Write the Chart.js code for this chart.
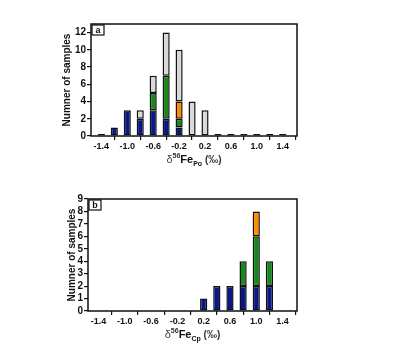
<!DOCTYPE html>
<html>
<head>
<meta charset="utf-8">
<script src="https://cdn.jsdelivr.net/npm/chart.js@4/dist/chart.umd.min.js"></script>
<style>
  html, body { margin: 0; padding: 0; background: #fff; }
  .panel { position: absolute; left: 0; width: 400px; }
  #panelA { top: 0; height: 178px; }
  #panelB { top: 178px; height: 167px; }
</style>
</head>
<body>
<div class="panel" id="panelA"><canvas id="chartA"></canvas></div>
<div class="panel" id="panelB"><canvas id="chartB"></canvas></div>
<script>
// bin centres (‰), shared by both histograms
const bins = [-1.4, -1.2, -1.0, -0.8, -0.6, -0.4, -0.2, 0.0, 0.2, 0.4, 0.6, 0.8, 1.0, 1.2, 1.4]
const xTicks = [-1.4, -1.0, -0.6, -0.2, 0.2, 0.6, 1.0, 1.4]

// (a) pyrrhotite
const poBlue   = [0, 1, 3, 2, 3, 2, 1, 0, 0, 0, 0, 0, 0, 0, 0]
const poGreen  = [0, 0, 0, 0, 2, 5, 1, 0, 0, 0, 0, 0, 0, 0, 0]
const poOrange = [0, 0, 0, 0, 0, 0, 2, 0, 0, 0, 0, 0, 0, 0, 0]
const poGrey   = [0, 0, 0, 1, 2, 5, 6, 4, 3, 0, 0, 0, 0, 0, 0]
const poYTicks = [0, 2, 4, 6, 8, 10, 12]

// (b) chalcopyrite
const cpBlue   = [0, 0, 0, 0, 0, 0, 0, 0, 1, 2, 2, 2, 2, 2, 0]
const cpGreen  = [0, 0, 0, 0, 0, 0, 0, 0, 0, 0, 0, 2, 4, 2, 0]
const cpOrange = [0, 0, 0, 0, 0, 0, 0, 0, 0, 0, 0, 0, 2, 0, 0]
const cpYTicks = [0, 1, 2, 3, 4, 5, 6, 7, 8, 9]

const COLORS = { blue: '#0a168a', green: '#16891a', orange: '#ff8c00', grey: '#d9d9d9', ink: '#111' }
const FONT = "'Liberation Sans', Arial, sans-serif"

function series(values, color) {
  return {
    data: bins.map((x, i) => ({ x, y: values[i] || null })),
    backgroundColor: color, borderColor: COLORS.ink, borderWidth: 1.5,
    borderSkipped: false, barPercentage: 0.55, categoryPercentage: 1,
  }
}

// empty bins are marked with a flat dash on the baseline
function emptyBins(groups) {
  const d = series([], COLORS.grey)
  d.data = bins.map((x, i) => ({ x, y: groups.every(g => !g[i]) ? 0 : null }))
  d.minBarLength = 2
  return d
}

const frame = {
  id: 'frame',
  afterDraw(chart, args, opts) {
    const { ctx, chartArea: a } = chart
    ctx.save()
    ctx.strokeStyle = COLORS.ink
    ctx.lineWidth = 1.5
    ctx.strokeRect(a.left, a.top, a.right - a.left, a.bottom - a.top)

    // panel letter in a small box
    ctx.lineWidth = 1.2
    ctx.fillStyle = '#fff'
    ctx.fillRect(a.left + 1, a.top + 1, 12, 10)
    ctx.strokeRect(a.left + 1, a.top + 1, 12, 10)
    ctx.fillStyle = COLORS.ink
    ctx.font = `bold 9px ${FONT}`
    ctx.textAlign = 'center'
    ctx.textBaseline = 'middle'
    ctx.fillText(opts.letter, a.left + 7, a.top + 6.5)

    // y title
    ctx.save()
    ctx.translate(a.left + opts.yTitleDx, (a.top + a.bottom) / 2)
    ctx.rotate(-Math.PI / 2)
    ctx.font = `bold 10px ${FONT}`
    ctx.fillText('Numner of samples', 0, 0)
    ctx.restore()

    // x title: δ56Fe with mineral subscript
    const parts = [
      { t: 'δ', f: `11px ${FONT}`, dy: 0, c: '#444' },
      { t: '56', f: `bold 7px ${FONT}`, dy: -5, c: '#333' },
      { t: 'Fe', f: `bold 11px ${FONT}`, dy: 0, c: COLORS.ink },
      { t: opts.sub, f: `bold 7px ${FONT}`, dy: 3, c: COLORS.ink },
      { t: ' (‰)', f: `bold 10px ${FONT}`, dy: 0, c: '#333' },
    ]
    ctx.textAlign = 'left'
    ctx.textBaseline = 'alphabetic'
    let w = 0
    parts.forEach(p => { ctx.font = p.f; w += ctx.measureText(p.t).width })
    let x = (a.left + a.right) / 2 - w / 2
    const y = a.bottom + opts.xTitleDy
    parts.forEach(p => {
      ctx.font = p.f
      ctx.fillStyle = p.c
      ctx.fillText(p.t, x, y + p.dy)
      x += ctx.measureText(p.t).width
    })
    ctx.restore()
  }
}

function histogram(id, datasets, yMax, yTicks, pad, opts) {
  return new Chart(document.getElementById(id), {
    type: 'bar',
    data: { datasets },
    plugins: [frame],
    options: {
      responsive: true, maintainAspectRatio: false, animation: false,
      layout: { padding: { top: pad.top, right: pad.right, left: 0, bottom: 0 } },
      plugins: { legend: { display: false }, tooltip: { enabled: false }, frame: opts },
      scales: {
        x: {
          type: 'linear', stacked: true, min: -1.56, max: 1.62, offset: false,
          afterBuildTicks: s => { s.ticks = xTicks.map(value => ({ value })) },
          afterFit: s => { s.height = pad.xHeight },
          grid: { drawOnChartArea: false, drawTicks: true, tickLength: 4, color: COLORS.ink, lineWidth: 1.2 },
          border: { display: false },
          ticks: { color: COLORS.ink, font: { family: FONT, size: 9, weight: 'bold' }, padding: 1,
                   maxRotation: 0, autoSkip: false, callback: v => v.toFixed(1) },
        },
        y: {
          stacked: true, min: 0, max: yMax,
          afterBuildTicks: s => { s.ticks = yTicks.map(value => ({ value })) },
          afterFit: s => { s.width = pad.left },
          grid: { drawOnChartArea: false, drawTicks: true, tickLength: 4, color: COLORS.ink, lineWidth: 1.2 },
          border: { display: false },
          ticks: { color: COLORS.ink, font: { family: FONT, size: 10, weight: 'bold' }, padding: 1, autoSkip: false },
        },
      },
    },
  })
}

histogram('chartA', [
  series(poBlue, COLORS.blue),
  series(poGreen, COLORS.green),
  series(poOrange, COLORS.orange),
  series(poGrey, COLORS.grey),
  emptyBins([poBlue, poGreen, poOrange, poGrey]),
], 13, poYTicks, { top: 24, right: 103, left: 91, xHeight: 42 },
   { letter: 'a', sub: 'Po', yTitleDx: -24, xTitleDy: 27 })

histogram('chartB', [
  series(cpBlue, COLORS.blue),
  series(cpGreen, COLORS.green),
  series(cpOrange, COLORS.orange),
], 9, cpYTicks, { top: 21, right: 103, left: 88, xHeight: 34 },
   { letter: 'b', sub: 'Cp', yTitleDx: -16, xTitleDy: 27 })
</script>
</body>
</html>
